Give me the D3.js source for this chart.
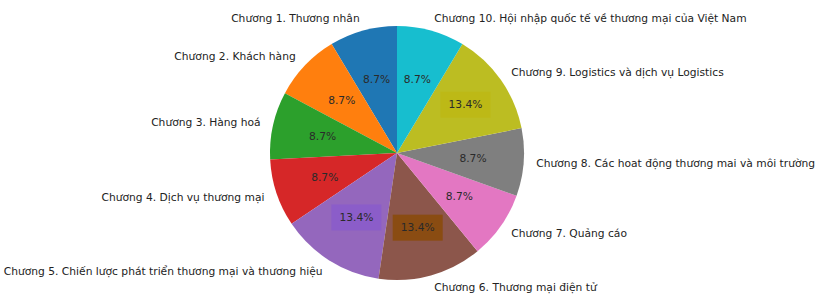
<!DOCTYPE html>
<html><head><meta charset="utf-8">
<script src="https://cdn.jsdelivr.net/npm/d3@7"></script>
<style>body{margin:0;background:#fff}svg{display:block}</style>
</head><body><svg id="c" width="817" height="294"></svg>
<script>
const categories = [
  "Chương 1. Thương nhân",
  "Chương 2. Khách hàng",
  "Chương 3. Hàng hoá",
  "Chương 4. Dịch vụ thương mại",
  "Chương 5. Chiến lược phát triển thương mại và thương hiệu",
  "Chương 6. Thương mại điện tử",
  "Chương 7. Quảng cáo",
  "Chương 8. Các hoat động thương mai và môi trường",
  "Chương 9. Logistics và dịch vụ Logistics",
  "Chương 10. Hội nhập quốc tế về thương mại của Việt Nam"
];
const values = [8.7, 8.7, 8.7, 8.7, 13.4, 13.4, 8.7, 8.7, 13.4, 8.7];
const pctLabels = ["8.7%","8.7%","8.7%","8.7%","13.4%","13.4%","8.7%","8.7%","13.4%","8.7%"];
const highlighted = [false,false,false,false,true,true,false,false,true,false];
const pctRadius = [0.6,0.6,0.6,0.6,0.6,0.61,0.6,0.6,0.66,0.6];
const colors = ["#1f77b4","#ff7f0e","#2ca02c","#d62728","#9467bd","#8c564b","#e377c2","#7f7f7f","#bcbd22","#17becf"];
const boxColors = ["","","","","#8b5dc9","#8a4c12","","","#bdb916",""];

const cx = 397, cy = 153, R = 127;
const svg = d3.select("#c");
const g = svg.append("g").attr("transform", `translate(${cx},${cy})`);
const data = values.map((v,i)=>({v,i}));
const pie = d3.pie().value(d=>d.v).sort(null).startAngle(0).endAngle(-2*Math.PI);
const arcs = pie(data);
const arc = d3.arc().innerRadius(0).outerRadius(R);
const lblArc = d3.arc().innerRadius(R*1.1).outerRadius(R*1.1);
const fontFamily = "DejaVu Sans, sans-serif";
const fs = 10.7;

g.selectAll("path.s").data(arcs).join("path").attr("class","s")
  .attr("d", arc).attr("fill", d=>colors[d.data.i]);

// category labels
g.selectAll("text.l").data(arcs).join("text").attr("class","l")
  .each(function(d){
    const [x,y] = lblArc.centroid(d);
    d3.select(this).attr("x",x).attr("y",y)
      .attr("text-anchor", x>0 ? "start" : "end")
      .attr("dominant-baseline","central");
  })
  .attr("font-family",fontFamily).attr("font-size",fs).attr("fill","#222")
  .text(d=>categories[d.data.i]);

// pct labels
const pg = g.selectAll("g.p").data(arcs).join("g").attr("class","p")
  .attr("transform", d=>{
    const r = R*pctRadius[d.data.i];
    const [x,y]=d3.arc().innerRadius(r).outerRadius(r).centroid(d);
    return `translate(${x},${y})`;});
pg.filter(d=>highlighted[d.data.i]).append("rect")
  .attr("x",-25).attr("y",-13).attr("width",50).attr("height",26)
  .attr("fill", d=>boxColors[d.data.i]);
pg.append("text").attr("text-anchor","middle").attr("dominant-baseline","central")
  .attr("font-family",fontFamily).attr("font-size",fs).attr("fill","#2a2a2a")
  .text(d=>pctLabels[d.data.i]);
</script></body></html>
